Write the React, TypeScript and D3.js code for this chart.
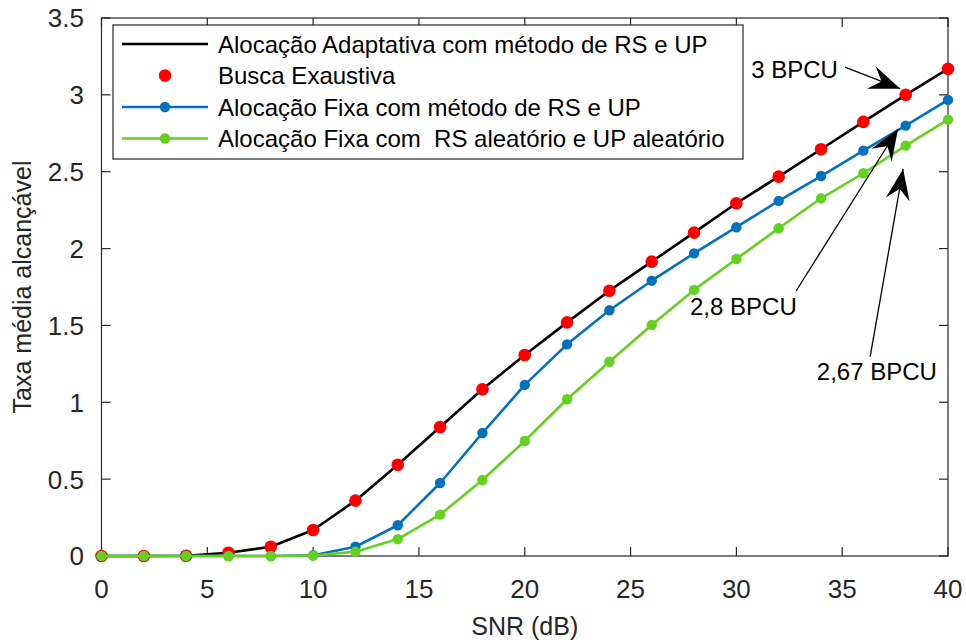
import React from 'react';
import * as d3 from 'd3';

// SNR grid (dB) and average achievable rate for each scheme
const snr = [0, 2, 4, 6, 8, 10, 12, 14, 16, 18, 20, 22, 24, 26, 28, 30, 32, 34, 36, 38, 40];
const adaptive = [0, 0, 0.002, 0.021, 0.06, 0.169, 0.36, 0.594, 0.839, 1.085, 1.308, 1.52, 1.726, 1.915, 2.104, 2.295, 2.468, 2.646, 2.824, 3.0, 3.169];
const exhaustive = [0, 0, 0.002, 0.021, 0.06, 0.169, 0.36, 0.594, 0.839, 1.085, 1.308, 1.52, 1.726, 1.915, 2.104, 2.295, 2.468, 2.646, 2.824, 3.0, 3.169];
const fixedRsUp = [0, 0, 0, 0, 0, 0.005, 0.06, 0.2, 0.475, 0.8, 1.113, 1.377, 1.599, 1.791, 1.969, 2.139, 2.31, 2.472, 2.637, 2.8, 2.967];
const fixedRandom = [0, 0, 0, 0, 0, 0.003, 0.028, 0.11, 0.269, 0.494, 0.748, 1.02, 1.264, 1.503, 1.731, 1.932, 2.132, 2.327, 2.49, 2.67, 2.839];

const xTicks = [0, 5, 10, 15, 20, 25, 30, 35, 40];
const yTicks = [0, 0.5, 1, 1.5, 2, 2.5, 3, 3.5];
const yTickLabels = ['0', '0.5', '1', '1.5', '2', '2.5', '3', '3.5'];

const legendLabels = [
  'Alocação Adaptativa com método de RS e UP',
  'Busca Exaustiva',
  'Alocação Fixa com método de RS e UP',
  'Alocação Fixa com  RS aleatório e UP aleatório',
];

const annotationLabels = ['3 BPCU', '2,8 BPCU', '2,67 BPCU'];

const COLORS = {
  axis: '#262626',
  adaptive: '#000000',
  exhaustive: '#ff0000',
  fixed: '#0072bd',
  random: '#63d11d',
};

const FONT = '"Liberation Sans", Arial, Helvetica, sans-serif';

const W = 966;
const H = 640;
const plot = { left: 101.5, right: 948, top: 18, bottom: 556 };

// Annotation layout in data units: label anchor and arrow tail -> head
const annotationLayout = [
  { tx: 34.8, ty: 3.11, anchor: 'end', x1: 35.13, y1: 3.18, x2: 37.74, y2: 3.04 },
  { tx: 27.81, ty: 1.568, anchor: 'start', x1: 32.82, y1: 1.724, x2: 37.64, y2: 2.778 },
  { tx: 33.8, ty: 1.145, anchor: 'start', x1: 36.32, y1: 1.295, x2: 37.88, y2: 2.518 },
];

function arrowHead(x1: number, y1: number, x2: number, y2: number, len = 31, half = 12, notch = 20) {
  const dx = x2 - x1;
  const dy = y2 - y1;
  const d = Math.hypot(dx, dy);
  const ux = dx / d;
  const uy = dy / d;
  const px = -uy;
  const py = ux;
  const pts = [
    [x2, y2],
    [x2 - ux * len + px * half, y2 - uy * len + py * half],
    [x2 - ux * notch, y2 - uy * notch],
    [x2 - ux * len - px * half, y2 - uy * len - py * half],
  ];
  return pts.map((p) => p.join(',')).join(' ');
}

export default function App() {
  const x = d3.scaleLinear().domain([0, 40]).range([plot.left, plot.right]);
  const y = d3.scaleLinear().domain([0, 3.5]).range([plot.bottom, plot.top]);

  const line = (vals: number[]) =>
    d3
      .line<number>()
      .x((_, i) => x(snr[i]))
      .y((v) => y(v))(vals) as string;

  const tickLen = 9;

  const legend = { x: 113, y: 25, w: 630, h: 134 };
  const rowY = [44, 75.5, 107, 138.5];

  return (
    <div style={{ position: 'fixed', left: 0, top: 0, width: W, height: H, background: '#fff' }}>
      <svg width={W} height={H} style={{ display: 'block', fontFamily: FONT }}>
        <rect x={0} y={0} width={W} height={H} fill="#fff" />

        {/* axes box */}
        <rect
          x={plot.left}
          y={plot.top}
          width={plot.right - plot.left}
          height={plot.bottom - plot.top}
          fill="none"
          stroke={COLORS.axis}
          strokeWidth={1.2}
        />

        {/* ticks on all four sides, pointing inward */}
        {xTicks.map((t) => (
          <g key={'xt' + t}>
            <line x1={x(t)} x2={x(t)} y1={plot.bottom} y2={plot.bottom - tickLen} stroke={COLORS.axis} strokeWidth={1.2} />
            <line x1={x(t)} x2={x(t)} y1={plot.top} y2={plot.top + tickLen} stroke={COLORS.axis} strokeWidth={1.2} />
            <text x={x(t)} y={598} fontSize={26} fill={COLORS.axis} textAnchor="middle">
              {t}
            </text>
          </g>
        ))}
        {yTicks.map((t, i) => (
          <g key={'yt' + t}>
            <line x1={plot.left} x2={plot.left + tickLen} y1={y(t)} y2={y(t)} stroke={COLORS.axis} strokeWidth={1.2} />
            <line x1={plot.right} x2={plot.right - tickLen} y1={y(t)} y2={y(t)} stroke={COLORS.axis} strokeWidth={1.2} />
            <text x={84} y={y(t)} dy="0.36em" fontSize={26} fill={COLORS.axis} textAnchor="end">
              {yTickLabels[i]}
            </text>
          </g>
        ))}

        {/* axis titles */}
        <text x={(plot.left + plot.right) / 2} y={635} fontSize={25} fill={COLORS.axis} textAnchor="middle">
          SNR (dB)
        </text>
        <text
          transform={`translate(31, ${(plot.top + plot.bottom) / 2}) rotate(-90)`}
          fontSize={25}
          fill={COLORS.axis}
          textAnchor="middle"
        >
          Taxa média alcançável
        </text>

        {/* series */}
        <path d={line(adaptive)} fill="none" stroke={COLORS.adaptive} strokeWidth={2.6} strokeLinejoin="round" />
        {exhaustive.map((v, i) => (
          <circle key={'ex' + i} cx={x(snr[i])} cy={y(v)} r={6.3} fill={COLORS.exhaustive} />
        ))}
        <path d={line(fixedRsUp)} fill="none" stroke={COLORS.fixed} strokeWidth={2.6} strokeLinejoin="round" />
        {fixedRsUp.map((v, i) => (
          <circle key={'fx' + i} cx={x(snr[i])} cy={y(v)} r={5.2} fill={COLORS.fixed} />
        ))}
        <path d={line(fixedRandom)} fill="none" stroke={COLORS.random} strokeWidth={2.6} strokeLinejoin="round" />
        {fixedRandom.map((v, i) => (
          <circle key={'rd' + i} cx={x(snr[i])} cy={y(v)} r={5.2} fill={COLORS.random} />
        ))}

        {/* legend */}
        <rect x={legend.x} y={legend.y} width={legend.w} height={legend.h} fill="#fff" stroke={COLORS.axis} strokeWidth={1.2} />
        {legendLabels.map((lab, i) => {
          const cy = rowY[i];
          const lx1 = 122;
          const lx2 = 208;
          const mx = (lx1 + lx2) / 2;
          return (
            <g key={'lg' + i}>
              {i === 0 && <line x1={lx1} x2={lx2} y1={cy} y2={cy} stroke={COLORS.adaptive} strokeWidth={2.6} />}
              {i === 1 && <circle cx={mx} cy={cy} r={6.3} fill={COLORS.exhaustive} />}
              {i === 2 && (
                <>
                  <line x1={lx1} x2={lx2} y1={cy} y2={cy} stroke={COLORS.fixed} strokeWidth={2.6} />
                  <circle cx={mx} cy={cy} r={5.2} fill={COLORS.fixed} />
                </>
              )}
              {i === 3 && (
                <>
                  <line x1={lx1} x2={lx2} y1={cy} y2={cy} stroke={COLORS.random} strokeWidth={2.6} />
                  <circle cx={mx} cy={cy} r={5.2} fill={COLORS.random} />
                </>
              )}
              <text x={218} y={cy} dy="0.36em" fontSize={24} fill="#000" style={{ whiteSpace: 'pre' }}>
                {lab}
              </text>
            </g>
          );
        })}

        {/* text arrows */}
        {annotationLabels.map((lab, i) => {
          const a = annotationLayout[i];
          const X1 = x(a.x1);
          const Y1 = y(a.y1);
          const X2 = x(a.x2);
          const Y2 = y(a.y2);
          return (
            <g key={'an' + i}>
              <line x1={X1} y1={Y1} x2={X2} y2={Y2} stroke="#000" strokeWidth={1.3} />
              <polygon points={arrowHead(X1, Y1, X2, Y2)} fill="#000" />
              <text x={x(a.tx)} y={y(a.ty)} fontSize={24} fill="#000" textAnchor={a.anchor as any}>
                {lab}
              </text>
            </g>
          );
        })}
      </svg>
    </div>
  );
}
